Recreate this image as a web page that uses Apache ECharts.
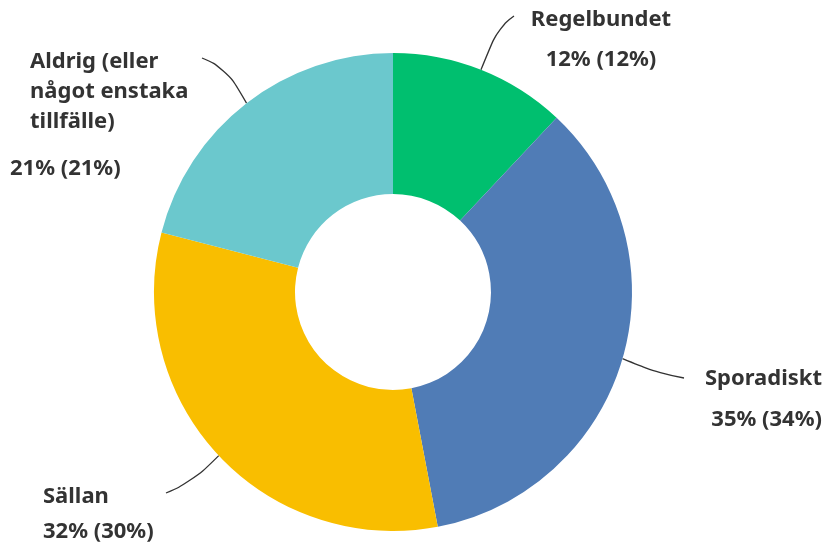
<!DOCTYPE html>
<html>
<head>
<meta charset="utf-8">
<script src="https://cdn.jsdelivr.net/npm/echarts@6/dist/echarts.min.js"></script>
<style>
html, body { margin: 0; padding: 0; background: #fff; }
#chart { width: 830px; height: 552px; }
</style>
</head>
<body>
<div id="chart"></div>
<script>
// svarsalternativ och andelar
const categories = ['Regelbundet', 'Sporadiskt', 'Sällan', 'Aldrig (eller\nnågot enstaka\ntillfälle)']
const shares = [12, 35, 32, 21]
const otherShares = [12, 34, 30, 21]
const colors = ['#00bf6f', '#507cb6', '#f9be00', '#6bc8cd']

// etikettplacering: x, y, justering, indrag för namnet, radavstånd till procent, ledlinjens böj- och slutpunkt
const labelCfg = [
    { x: 601, y: 5, align: 'center', indent: 0, gap: 49, bend: [498, 28], end: [514, 16] },
    { x: 822, y: 364, align: 'right', indent: 0, gap: 51, bend: [660, 374], end: [684, 378] },
    { x: 43, y: 482, align: 'left', indent: 0, gap: 39, bend: [192, 482], end: [166, 493] },
    { x: 10, y: 47, align: 'left', indent: 20, gap: 63, bend: [226, 68], end: [202, 58] }
]

const font = { fontFamily: 'Noto Sans', fontWeight: 'bold', fontSize: 22, color: '#333' }

const chart = echarts.init(document.getElementById('chart'))
const data = categories.map((name, i) => ({
    name: name,
    value: shares[i],
    other: otherShares[i],
    itemStyle: { color: colors[i] },
    label: {
        rich: {
            n: Object.assign({}, font, { lineHeight: 30, padding: [0, 0, 0, labelCfg[i].indent] }),
            p: Object.assign({}, font, { lineHeight: labelCfg[i].gap })
        }
    }
}))

const option = {
    animation: false,
    series: [{
        type: 'pie',
        center: [393, 292],
        radius: [98, 239],
        startAngle: 90,
        clockwise: true,
        data: data,
        itemStyle: { borderWidth: 0 },
        label: {
            show: true,
            formatter: function (p) {
                const lines = p.name.split('\n').map(l => '{n|' + l + '}').join('\n')
                return lines + '\n{p|' + p.value + '% (' + p.data.other + '%)}'
            }
        },
        labelLine: {
            show: true,
            smooth: 0.5,
            lineStyle: { color: '#333', width: 1.3 }
        },
        labelLayout: function (params) {
            const cfg = labelCfg[params.dataIndex]
            const start = params.labelLinePoints ? params.labelLinePoints[0] : cfg.bend
            return {
                x: cfg.x, y: cfg.y, align: cfg.align, verticalAlign: 'top',
                labelLinePoints: [start, cfg.bend, cfg.end]
            }
        }
    }]
}
chart.setOption(option)
</script>
</body>
</html>
